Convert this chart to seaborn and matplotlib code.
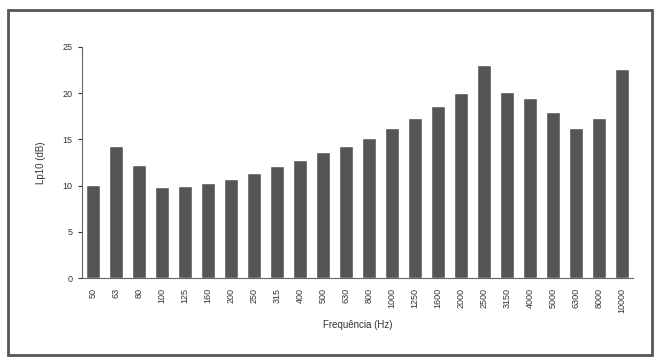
import matplotlib
matplotlib.use("Agg")
import matplotlib.pyplot as plt
import seaborn as sns
import pandas as pd
from matplotlib.patches import Rectangle

# %% data
freqs = ["50", "63", "80", "100", "125", "160", "200", "250", "315", "400",
         "500", "630", "800", "1000", "1250", "1600", "2000", "2500", "3150",
         "4000", "5000", "6300", "8000", "10000"]
lp10 = [10.1, 14.3, 12.2, 9.8, 10.0, 10.3, 10.7, 11.4, 12.1, 12.8,
        13.6, 14.3, 15.1, 16.2, 17.3, 18.6, 20.0, 23.0, 20.1,
        19.5, 18.0, 16.2, 17.3, 22.6]
yticks = [0, 5, 10, 15, 20, 25]

df = pd.DataFrame({"freq": freqs, "lp10": lp10})

# %% plot
sns.set_style("white")
plt.rcParams["font.family"] = ["Liberation Sans", "DejaVu Sans"]

fig = plt.figure(figsize=(6.59, 3.64), dpi=100)
ax = fig.add_axes([0.124, 0.236, 0.837, 0.635])

sns.barplot(data=df, x="freq", y="lp10", color="#555555", width=0.62,
            saturation=1, ax=ax)

ax.set_ylim(0, 25)
ax.set_yticks(yticks)
ax.set_xlim(-0.5, len(freqs) - 0.5)
# little ticks between the categories, like the original
ax.set_xticks([i + 0.5 for i in range(-1, len(freqs))], minor=True)
ax.tick_params(axis="x", which="major", length=0, labelsize=6.5,
               labelrotation=90, pad=7, colors="#333333")
ax.tick_params(axis="x", which="minor", length=2.5, width=0.8, color="#444444")
ax.tick_params(axis="y", length=3, width=0.8, labelsize=6.5,
               colors="#333333", left=True)

for side in ["top", "right"]:
    ax.spines[side].set_visible(False)
for side in ["left", "bottom"]:
    ax.spines[side].set_color("#666666")
    ax.spines[side].set_linewidth(0.8)

ax.set_xlabel("Frequência (Hz)", fontsize=7, color="#333333", labelpad=5)
ax.set_ylabel("Lp10 (dB)", fontsize=7, color="#333333", labelpad=12)

# gray frame around the whole chart
fig.patches.append(Rectangle((0.012, 0.025), 0.978, 0.948,
                             transform=fig.transFigure, fill=False,
                             edgecolor="#555555", linewidth=2.0))

fig.savefig("out.png", dpi=100)
